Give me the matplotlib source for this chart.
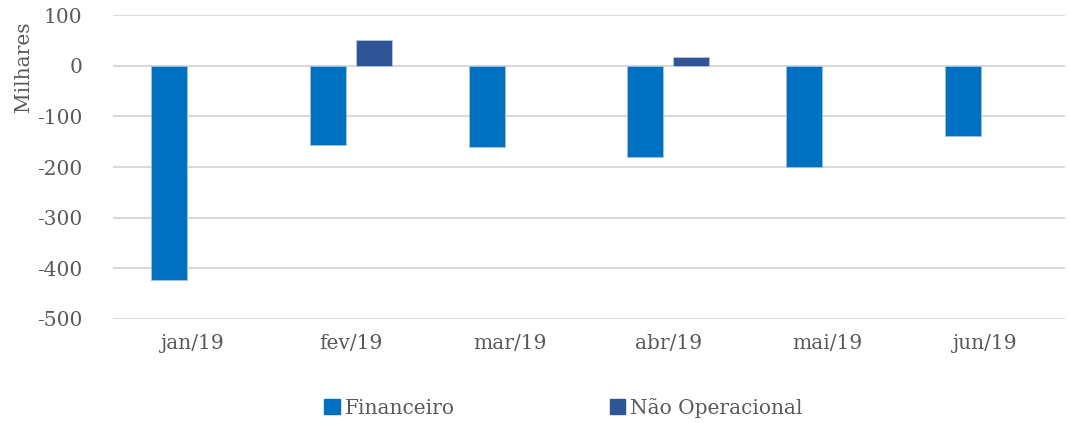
import numpy as np
import matplotlib
matplotlib.use("Agg")
import matplotlib.pyplot as plt
from matplotlib.patches import Patch

months = ["jan/19", "fev/19", "mar/19", "abr/19", "mai/19", "jun/19"]
financeiro = [-423, -157, -160, -180, -200, -138]
nao_operacional = [0, 51, 0, 18, 0, 0]

c_fin = "#0070C0"
c_nop = "#2F5597"
txt = "#595959"

plt.rcParams["font.family"] = ["DejaVu Serif"]
plt.rcParams["axes.unicode_minus"] = False

fig = plt.figure(figsize=(10.69, 4.23), dpi=100)
ax = fig.add_axes([0.1057, 0.2459, 0.8906, 0.7186])

x = np.arange(len(months))
w = 0.226
off = 0.145
ax.bar(x - off, financeiro, w, color=c_fin, edgecolor="#9dc3e6", linewidth=0.6, zorder=3)
nop = np.array(nao_operacional)
mask = nop != 0
ax.bar(x[mask] + off, nop[mask], w, color=c_nop, edgecolor="#b4c7e7", linewidth=0.6, zorder=3)

ax.set_xlim(-0.5, len(months) - 0.5)
ax.set_ylim(-500, 100)
ax.set_yticks(np.arange(-500, 101, 100))
ax.set_xticks(x)
ax.set_xticklabels(months)
ax.yaxis.grid(True, color="#d9d9d9", linewidth=1.5, zorder=0)
ax.set_axisbelow(True)
for s in ax.spines.values():
    s.set_visible(False)
ax.tick_params(axis="both", length=0, labelsize=14.5, colors=txt)
ax.tick_params(axis="y", pad=22)
ax.tick_params(axis="x", pad=11)
ax.set_ylabel("Milhares", fontsize=14.5, color=txt)
ax.yaxis.set_label_coords(-0.084, 0.83)

handles = [Patch(color=c_fin, label="Financeiro"), Patch(color=c_nop, label="Não Operacional")]
fig.legend(handles=handles, loc="center", bbox_to_anchor=(0.527, 0.036), ncol=2, frameon=False,
           prop={"family": "DejaVu Serif", "size": 14.5}, handlelength=0.75, handleheight=0.75,
           handletextpad=0.25, columnspacing=7.7, labelcolor=txt)

fig.savefig("out.png", dpi=100)
